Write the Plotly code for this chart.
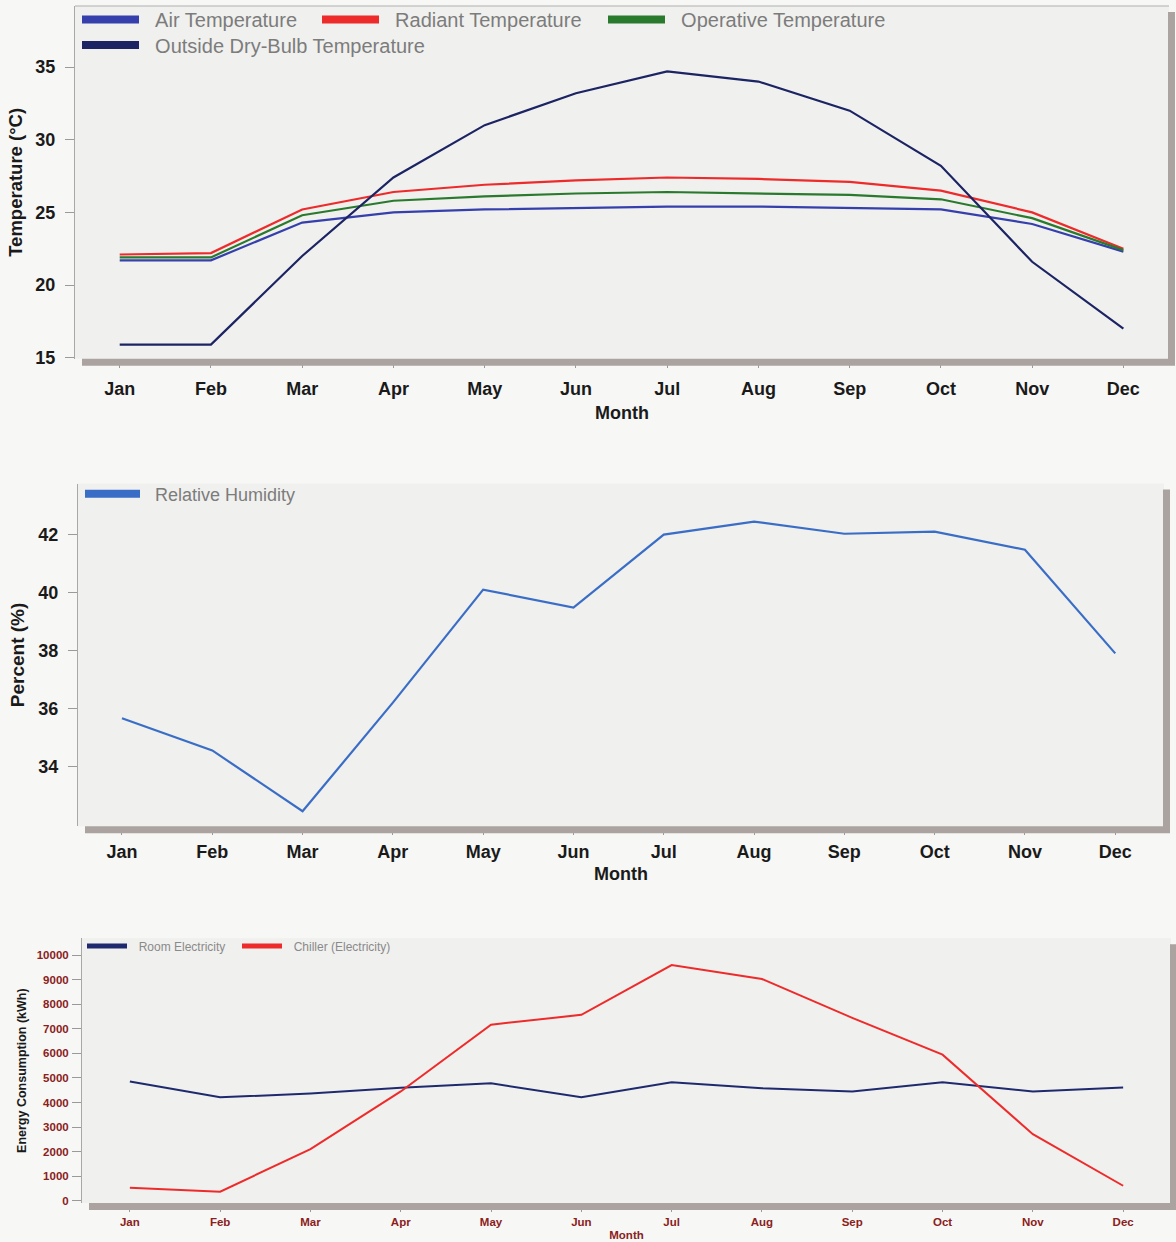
import plotly.graph_objects as go

months = ["Jan", "Feb", "Mar", "Apr", "May", "Jun", "Jul", "Aug", "Sep", "Oct", "Nov", "Dec"]

air_temp = [21.7, 21.7, 24.3, 25.0, 25.2, 25.3, 25.4, 25.4, 25.3, 25.2, 24.2, 22.3]
radiant_temp = [22.1, 22.2, 25.2, 26.4, 26.9, 27.2, 27.4, 27.3, 27.1, 26.5, 25.0, 22.5]
operative_temp = [21.9, 21.9, 24.8, 25.8, 26.1, 26.3, 26.4, 26.3, 26.2, 25.9, 24.6, 22.4]
outside_temp = [15.9, 15.9, 22.0, 27.4, 31.0, 33.2, 34.7, 34.0, 32.0, 28.2, 21.6, 17.0]

rel_humidity = [35.66, 34.55, 32.45, 36.2, 40.1, 39.48, 42.0, 42.45, 42.03, 42.1, 41.48, 37.9]

room_elec = [4860, 4210, 4370, 4600, 4780, 4210, 4820, 4580, 4450, 4820, 4450, 4610]
chiller_elec = [530, 370, 2100, 4450, 7170, 7570, 9600, 9030, 7450, 5950, 2710, 610]

W, H = 1176, 1242
PAPER = "#f7f7f5"
PLOT = "#f0f0ee"
FAM = "Liberation Sans, Arial"
NB = "\u00a0\u00a0"

fig = go.Figure()


def px_x(x):
    return x / W


def px_y(y):
    return 1 - y / H


legends = {}


def add_legend(key, x, y, size, color, itemwidth):
    legends[key] = dict(orientation="h", x=px_x(x), y=px_y(y), xanchor="left", yanchor="middle",
                        bgcolor="rgba(0,0,0,0)", itemwidth=itemwidth, borderwidth=0,
                        font=dict(family=FAM, size=size, color=color))


# ---------- Chart 1 ----------
c1 = dict(l=75, r=1169, t=5, b=358)
series1 = [
    ("Air Temperature", air_temp, "#3540ad", "legend", 77, 19),
    ("Radiant Temperature", radiant_temp, "#ee2b2b", "legend2", 317, 19),
    ("Operative Temperature", operative_temp, "#2a7a2e", "legend3", 603, 19),
    ("Outside Dry-Bulb Temperature", outside_temp, "#1c2463", "legend4", 77, 45),
]
for name, vals, col, lg, lx, ly in series1:
    fig.add_trace(go.Scatter(x=months, y=vals, mode="lines", line=dict(color=col, width=2.2),
                             showlegend=False, xaxis="x", yaxis="y", name=name))
for name, vals, col, lg, lx, ly in series1:
    fig.add_trace(go.Scatter(x=[None], y=[None], mode="lines", line=dict(color=col, width=8),
                             name=NB + name, legend=lg, xaxis="x", yaxis="y"))
    add_legend(lg, lx, ly, 20, "#7c7c7c", 57)

# ---------- Chart 2 ----------
c2 = dict(l=78, r=1164, t=483, b=826)
fig.add_trace(go.Scatter(x=months, y=rel_humidity, mode="lines", line=dict(color="#3a6ec6", width=2.2),
                         showlegend=False, xaxis="x2", yaxis="y2", name="Relative Humidity"))
fig.add_trace(go.Scatter(x=[None], y=[None], mode="lines", line=dict(color="#3a6ec6", width=8),
                         name=NB + "Relative Humidity", legend="legend5", xaxis="x2", yaxis="y2"))
add_legend("legend5", 80, 494, 18, "#7c7c7c", 55)

# ---------- Chart 3 ----------
c3 = dict(l=82, r=1171, t=938, b=1203)
series3 = [("Room Electricity", room_elec, "#1f2a6e", "legend6", 82),
           ("Chiller (Electricity)", chiller_elec, "#ee2b2b", "legend7", 237)]
for name, vals, col, lg, lx in series3:
    fig.add_trace(go.Scatter(x=months, y=vals, mode="lines", line=dict(color=col, width=2),
                             showlegend=False, xaxis="x3", yaxis="y3", name=name))
for name, vals, col, lg, lx in series3:
    fig.add_trace(go.Scatter(x=[None], y=[None], mode="lines", line=dict(color=col, width=5),
                             name=NB + name, legend=lg, xaxis="x3", yaxis="y3"))
    add_legend(lg, lx, 946, 12, "#8a8a8a", 40)


def xaxis(c, rng, font, title_font, standoff, lblstand):
    return dict(domain=[px_x(c["l"]), px_x(c["r"])], range=rng, type="category",
                showgrid=False, zeroline=False, showline=False,
                ticks="outside", ticklen=8, tickcolor="#9a9a9a", tickwidth=1,
                ticklabelstandoff=lblstand,
                tickfont=font, title=dict(text="Month", font=title_font, standoff=standoff),
                automargin=False, fixedrange=True)


def yaxis(c, rng, tickvals, title, font, title_font, standoff, anchor, lblstand):
    return dict(domain=[px_y(c["b"]), px_y(c["t"])], range=rng, tickvals=tickvals,
                tickformat="d",
                showgrid=False, zeroline=False, showline=True, linecolor="#a8a8a8", linewidth=1,
                ticks="outside", ticklen=9, tickcolor="#9a9a9a", tickwidth=1,
                ticklabelstandoff=lblstand,
                tickfont=font, title=dict(text=title, font=title_font, standoff=standoff),
                automargin=False, fixedrange=True, anchor=anchor)


f1 = dict(family=FAM, size=18, color="#1a1a1a", weight="bold")
f2 = dict(family=FAM, size=18, color="#1a1a1a", weight="bold")
f3 = dict(family=FAM, size=11.5, color="#8a2020", weight="bold")

fig.update_layout(
    width=W, height=H, margin=dict(l=0, r=0, t=0, b=0),
    paper_bgcolor=PAPER, plot_bgcolor=PLOT,
    xaxis=xaxis(c1, [-0.49, 11.5], f1, f1, 8, 6),
    yaxis=yaxis(c1, [14.93, 39.2], [15, 20, 25, 30, 35], "Temperature (°C)", f1,
                dict(family=FAM, size=18.5, color="#1a1a1a", weight="bold"), 7, "x", 6),
    xaxis2=dict(xaxis(c2, [-0.487, 11.54], f2, f2, 6, 1), anchor="y2"),
    yaxis2=yaxis(c2, [31.93, 43.76], [34, 36, 38, 40, 42], "Percent (%)", f2,
                 dict(family=FAM, size=19, color="#1a1a1a", weight="bold"), 8, "x2", 6),
    xaxis3=dict(xaxis(c3, [-0.53, 11.53], f3, f3, 4, 0), anchor="y3"),
    yaxis3=yaxis(c3, [-94, 10690], list(range(0, 10001, 1000)), "Energy Consumption (kWh)",
                 f3, dict(family=FAM, size=12.5, color="#1a1a1a", weight="bold"), 7, "x3", 1),
    hovermode="closest",
    **legends,
)

# plot-area border and shadow bands (decoration)
shapes = []
for c, top_line in ((c1, True), (c2, False), (c3, False)):
    l, r, t, b = c["l"], c["r"], c["t"], c["b"]
    if top_line:
        shapes.append(dict(type="line", xref="paper", yref="paper", x0=px_x(l), x1=px_x(r),
                           y0=px_y(t), y1=px_y(t), line=dict(color="#b0b0b0", width=1)))
    shapes.append(dict(type="rect", xref="paper", yref="paper", x0=px_x(r - 1), x1=px_x(r + 6),
                       y0=px_y(b + 6), y1=px_y(t + 6), line=dict(width=0), fillcolor="#aaa39f"))
    shapes.append(dict(type="rect", xref="paper", yref="paper", x0=px_x(l + 7), x1=px_x(r + 6),
                       y0=px_y(b + 7), y1=px_y(b), line=dict(width=0), fillcolor="#aaa39f"))
fig.update_layout(shapes=shapes)

fig.write_html("out.html", config={"displayModeBar": False},
               post_script="document.body.style.margin='0px';")
